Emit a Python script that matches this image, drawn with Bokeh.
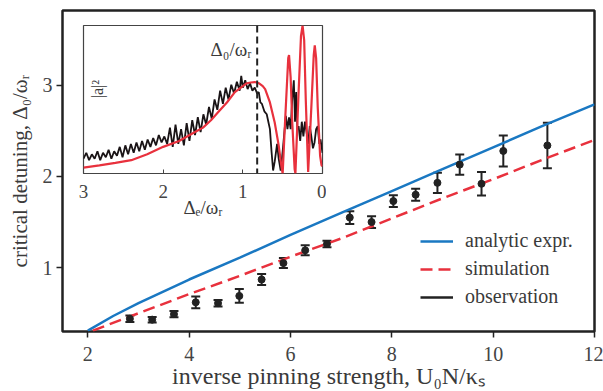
import math
from bokeh.plotting import figure
from bokeh.models import (Range1d, Legend, LegendItem, Whisker, TeeHead, ColumnDataSource,
                          Span, Label, FixedTicker)
from bokeh.embed import file_html
from bokeh.resources import INLINE

# ---------------- main panel data ----------------
analytic_x = [2.0, 2.5, 3.0, 3.5, 4.0, 5.0, 6.0, 7.0, 8.0, 9.0, 10.0, 11.0, 12.0]
analytic_y = [0.31, 0.47, 0.61, 0.74, 0.87, 1.11, 1.36, 1.60, 1.84, 2.08, 2.32, 2.56, 2.79]

sim_x = [2.1, 3.0, 4.0, 5.0, 6.0, 7.0, 8.0, 9.0, 10.0, 11.0, 12.0]
sim_y = [0.31, 0.50, 0.71, 0.91, 1.12, 1.32, 1.54, 1.76, 1.97, 2.19, 2.40]

obs_x = [2.83, 3.27, 3.70, 4.13, 4.57, 4.99, 5.43, 5.86, 6.29, 6.72,
         7.17, 7.60, 8.03, 8.47, 8.90, 9.34, 9.77, 10.20, 11.07]
obs_y = [0.44, 0.43, 0.49, 0.62, 0.61, 0.69, 0.87, 1.05, 1.19, 1.26,
         1.55, 1.50, 1.73, 1.80, 1.93, 2.13, 1.92, 2.28, 2.34]
obs_err = [0.035, 0.03, 0.035, 0.065, 0.035, 0.075, 0.06, 0.055, 0.055, 0.035,
           0.07, 0.065, 0.065, 0.065, 0.11, 0.11, 0.13, 0.17, 0.25]

x_ticks = [2, 4, 6, 8, 10, 12]
y_ticks = [1, 2, 3]

# ---------------- inset data ----------------
red_x = [3.0, 2.8, 2.6, 2.4, 2.2, 2.0, 1.8, 1.6, 1.5, 1.4, 1.3, 1.2, 1.1, 1.0, 0.95,
         0.9, 0.85, 0.8, 0.75, 0.72, 0.66, 0.60, 0.55, 0.516, 0.50, 0.47, 0.43, 0.42,
         0.40, 0.38, 0.35, 0.34, 0.30, 0.27, 0.25, 0.23, 0.21, 0.18, 0.14, 0.11, 0.097,
         0.08, 0.06, 0.03, 0.012, 0.0]
red_y = [0.04, 0.055, 0.072, 0.09, 0.13, 0.18, 0.22, 0.28, 0.31, 0.36, 0.42, 0.48, 0.55, 0.59, 0.61,
         0.615, 0.618, 0.61, 0.59, 0.57, 0.48, 0.345, 0.19, 0.05, 0.0, 0.35, 0.78, 0.80,
         0.65, 0.35, 0.03, 0.0, 0.55, 0.93, 1.0, 0.9, 0.5, 0.01, 0.45, 0.80, 0.865,
         0.78, 0.45, 0.12, 0.055, 0.05]

black_x = [3.00, 2.965, 2.93, 2.895, 2.86, 2.825, 2.79, 2.755, 2.72, 2.685, 2.65, 2.615,
           2.58, 2.545, 2.51, 2.475, 2.44, 2.405, 2.37, 2.335, 2.30, 2.265, 2.23, 2.195,
           2.16, 2.125, 2.09, 2.055, 2.02, 1.985, 1.95, 1.915, 1.88, 1.845, 1.81, 1.775,
           1.74, 1.705, 1.67, 1.635, 1.60, 1.565, 1.53, 1.495, 1.46, 1.425, 1.39, 1.355,
           1.32, 1.285, 1.25, 1.215, 1.18, 1.145, 1.11, 1.075, 1.04, 1.02, 1.00, 0.97,
           0.94, 0.91, 0.88, 0.85, 0.82, 0.80, 0.78, 0.76, 0.73, 0.70, 0.68, 0.66, 0.64,
           0.62, 0.60, 0.57, 0.55, 0.525, 0.50, 0.46, 0.44, 0.42, 0.40, 0.38, 0.36,
           0.345, 0.33, 0.315, 0.30, 0.28, 0.26, 0.24, 0.22, 0.20, 0.18, 0.16, 0.14,
           0.12, 0.10, 0.08, 0.06, 0.04, 0.025, 0.0]
black_y = [0.10, 0.14, 0.09, 0.13, 0.10, 0.15, 0.09, 0.14, 0.11, 0.16, 0.10, 0.15,
           0.12, 0.18, 0.11, 0.19, 0.13, 0.20, 0.14, 0.21, 0.15, 0.22, 0.16, 0.23,
           0.18, 0.24, 0.19, 0.26, 0.21, 0.25, 0.20, 0.31, 0.18, 0.33, 0.20, 0.30,
           0.19, 0.34, 0.22, 0.36, 0.26, 0.38, 0.28, 0.40, 0.33, 0.45, 0.37, 0.50,
           0.43, 0.56, 0.47, 0.58, 0.50, 0.60, 0.54, 0.62, 0.56, 0.66, 0.58, 0.63,
           0.57, 0.61, 0.56, 0.58, 0.54, 0.55, 0.48, 0.47, 0.42, 0.40, 0.35, 0.30, 0.15,
           0.02, 0.08, 0.20, 0.10, 0.02, 0.15, 0.39, 0.30, 0.38, 0.30, 0.50, 0.63,
           0.35, 0.55, 0.30, 0.32, 0.22, 0.35, 0.25, 0.35, 0.28, 0.20, 0.32, 0.25,
           0.17, 0.21, 0.30, 0.32, 0.20, 0.23, 0.14]

delta0_inset = 0.82
inset_x_ticks = [0, 1, 2, 3]

BLUE = "#1a78c2"
RED = "#e8313d"
DARK = "#222222"
GREY = "#3a3a3a"
FONT = "Liberation Serif"
TFONT = "serif"

# ---------------- main figure ----------------
p = figure(width=603, height=391, x_range=Range1d(1.5, 12), y_range=Range1d(0.3, 3.82),
           output_backend="svg", toolbar_location=None,
           min_border_left=62, min_border_right=9, min_border_top=10, min_border_bottom=60)
p.grid.visible = False
p.outline_line_color = DARK
p.outline_line_width = 2.5
p.background_fill_color = "white"

for ax in (p.xaxis[0], p.yaxis[0]):
    ax.axis_line_color = None
    ax.major_tick_line_color = DARK
    ax.major_tick_line_width = 1.5
    ax.major_tick_in = 0
    ax.major_tick_out = 6
    ax.minor_tick_line_color = None
    ax.major_label_text_font = TFONT
    ax.major_label_text_font_size = "20px"
    ax.major_label_text_color = "#444444"
    ax.axis_label_text_font = FONT
    ax.axis_label_text_font_style = "normal"
    ax.axis_label_text_color = GREY

p.xaxis.major_label_standoff = 9
p.xaxis.axis_label_standoff = -1
p.xaxis.axis_label_text_font_size = "24px"
p.yaxis.major_label_standoff = 4
p.yaxis.axis_label_standoff = 8
p.yaxis.axis_label_text_font_size = "21px"

p.xaxis.ticker = FixedTicker(ticks=x_ticks)
p.yaxis.ticker = FixedTicker(ticks=y_ticks)
p.xaxis.axis_label = "inverse pinning strength, U\u2080N/\u03ba\u209b"
p.yaxis.axis_label = "critical detuning, \u0394\u2080/\u03c9\u1d63"

r_an = p.line(analytic_x, analytic_y, line_color=BLUE, line_width=2.5)
r_sim = p.line(sim_x, sim_y, line_color=RED, line_width=2.5, line_dash="12 6")

src = ColumnDataSource(dict(x=obs_x, y=obs_y,
                            lo=[y - e for y, e in zip(obs_y, obs_err)],
                            hi=[y + e for y, e in zip(obs_y, obs_err)]))
wh = Whisker(base="x", upper="hi", lower="lo", source=src, line_color=DARK, line_width=2,
             upper_head=TeeHead(size=9, line_color=DARK, line_width=2),
             lower_head=TeeHead(size=9, line_color=DARK, line_width=2))
p.add_layout(wh)
p.scatter("x", "y", source=src, size=7, fill_color=DARK, line_color=DARK)
r_obs = p.line(x=[float("nan")], y=[float("nan")], line_color=DARK, line_width=2.5)

legend = Legend(items=[LegendItem(label="analytic expr.", renderers=[r_an]),
                       LegendItem(label="simulation", renderers=[r_sim]),
                       LegendItem(label="observation", renderers=[r_obs])],
                location=(358, 23), padding=0, margin=0, spacing=5,
                glyph_width=33, glyph_height=20, label_height=20, label_standoff=12,
                label_text_font=FONT, label_text_font_size="20px", label_text_color=GREY,
                border_line_color=None, background_fill_alpha=0)
p.add_layout(legend, "center")

# ---------------- inset figure ----------------
ins = figure(width=250, height=200, x_range=Range1d(3, 0), y_range=Range1d(0, 1),
             output_backend="svg", toolbar_location=None, y_axis_location=None,
             min_border_left=7, min_border_right=4, min_border_top=5, min_border_bottom=45)
ins.grid.visible = False
ins.border_fill_color = None
ins.background_fill_color = "white"
ins.outline_line_color = "#444444"
ins.outline_line_width = 1.2
ax = ins.xaxis[0]
ax.ticker = FixedTicker(ticks=inset_x_ticks)
ax.axis_line_color = None
ax.major_tick_line_color = "#444444"
ax.major_tick_in = 4
ax.major_tick_out = 0
ax.minor_tick_line_color = None
ax.major_label_text_font = TFONT
ax.major_label_text_font_size = "19px"
ax.major_label_text_color = "#444444"
ax.major_label_standoff = 11
ax.axis_label = "\u0394\u2091/\u03c9\u1d63"
ax.axis_label_text_font = FONT
ax.axis_label_text_font_size = "19px"
ax.axis_label_text_font_style = "normal"
ax.axis_label_text_color = GREY
ax.axis_label_standoff = -4

ins.line(black_x, black_y, line_color="#1a1416", line_width=1.8)
ins.line(red_x, red_y, line_color=RED, line_width=2.2)
ins.add_layout(Span(location=delta0_inset, dimension="height", line_color=DARK,
                    line_width=2, line_dash="7 4"))
ins.add_layout(Label(x=0.89, y=0.77, text="\u0394\u2080/\u03c9\u1d63", text_align="right",
                     text_font=FONT, text_font_size="19px", text_color=GREY))
ins.add_layout(Label(x=2.83, y=0.57, text="|a|\u00b2", angle=math.pi / 2,
                     text_align="center", text_baseline="middle",
                     text_font=FONT, text_font_size="16px", text_color=GREY))
ins.styles = {"position": "absolute", "left": "76px", "top": "20px"}

open("out.html", "w").write(file_html([p, ins], INLINE))
